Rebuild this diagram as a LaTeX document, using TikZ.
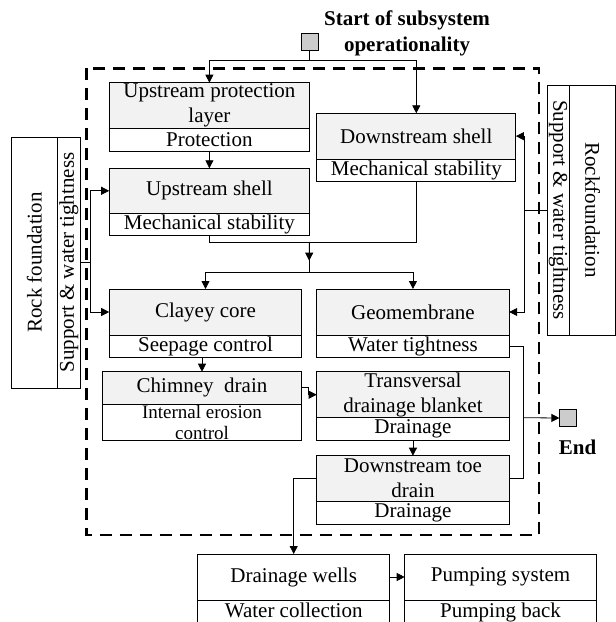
\documentclass[tikz,border=0pt]{standalone}
\usepackage{fontspec}
\setmainfont{Liberation Serif}
\usetikzlibrary{positioning,arrows.meta,calc}
\definecolor{hd}{HTML}{F2F2F2}

\begin{document}
\begin{tikzpicture}[
  x=1pt,y=-1pt,
  font=\fontsize{21}{25}\selectfont,
  head/.style={draw,fill=hd,line width=0.9pt,inner sep=0pt,outer sep=0pt,align=center,anchor=north west},
  func/.style={draw,fill=white,line width=0.9pt,inner sep=0pt,outer sep=0pt,align=center},
  side/.style={draw,line width=0.9pt,inner sep=0pt,outer sep=0pt},
  term/.style={draw,fill=gray!40,line width=0.8pt,minimum size=17pt,inner sep=0pt},
  line/.style={line width=0.8pt},
  arr/.style={-{Triangle[length=8pt,width=8pt]},line width=0.8pt},
  frame/.style={line width=2.6pt,dash pattern=on 12pt off 8pt}
]
\clip (0,0) rectangle (616,622);

% subsystem border
\draw[frame] (86.4,68.3) rectangle (539.1,535);

% start
\node[term] (start) at (309.5,42) {};
\node[font=\bfseries\fontsize{21}{26.5}\selectfont,align=center] (startlbl) at (407,33.5) {Start of subsystem\\operationality};

% components
\node[head,minimum width=200.4,minimum height=45.6] (upH) at (109.2,82.7) {Upstream protection\\layer};
\node[func,below=0pt of upH,minimum width=200.4,minimum height=22.7] (upF) {Protection};

\node[head,minimum width=200.4,minimum height=45] (shH) at (109.2,168.3) {Upstream shell};
\node[func,below=0pt of shH,minimum width=200.4,minimum height=21.7] (shF) {Mechanical stability};

\node[head,minimum width=199.2,minimum height=45.7] (dsH) at (316.7,113.3) {Downstream shell};
\node[func,below=0pt of dsH,minimum width=199.2,minimum height=22.7] (dsF) {Mechanical stability};

\node[head,minimum width=192.6,minimum height=46] (coreH) at (109.2,289) {Clayey core};
\node[func,below=0pt of coreH,minimum width=192.6,minimum height=22.3] (coreF) {Seepage control};

\node[head,minimum width=192.5,minimum height=46] (geoH) at (316.7,289) {Geomembrane};
\node[func,below=0pt of geoH,minimum width=192.5,minimum height=22.3] (geoF) {Water tightness};

\node[head,minimum width=199.6,minimum height=32.3] (chH) at (102.2,371.7) {Chimney\ \ drain};
\node[func,below=0pt of chH,minimum width=199.6,minimum height=36.7,font=\fontsize{19}{21}\selectfont] (chF) {Internal erosion\\control};

\node[head,minimum width=192.5,minimum height=46] (blH) at (316.7,371.7) {Transversal\\drainage blanket};
\node[func,below=0pt of blH,minimum width=192.5,minimum height=23] (blF) {Drainage};

\node[head,minimum width=192.5,minimum height=46] (toeH) at (316.7,455.7) {Downstream toe\\drain};
\node[func,below=0pt of toeH,minimum width=192.5,minimum height=22.3] (toeF) {Drainage};

\node[head,fill=white,minimum width=192.2,minimum height=46] (wellsH) at (197.6,554) {Drainage wells};
\node[func,below=0pt of wellsH,minimum width=192.2,minimum height=24,text depth=3.5pt] (wellsF) {Water collection};

\node[head,fill=white,minimum width=191.8,minimum height=46] (pumpH) at (404.7,554) {Pumping system};
\node[func,below=0pt of pumpH,minimum width=191.8,minimum height=24,text depth=3.5pt] (pumpF) {Pumping back};

% foundations
\node[side,rotate=90,minimum width=251,minimum height=45.2] (rockLh) at (34.4,262.5) {Rock foundation};
\node[side,rotate=90,minimum width=251,minimum height=23.5] (rockLf) at (68.75,262.5) {Support \& water tightness};
\node[side,rotate=-90,minimum width=250,minimum height=45.8] (rockRh) at (592.6,210) {Rockfoundation};
\node[side,rotate=-90,minimum width=250,minimum height=22.7] (rockRf) at (558.3,210) {Support \& water tightness};

% end
\node[term] (endsq) at (568.3,418) {};
\node[font=\bfseries\fontsize{21}{25}\selectfont] (endlbl) at (577.5,447) {End};

% connectors
\coordinate (sj) at (309.5,60.7);
\draw[line] (start.south) -- (sj);
\draw[arr] (sj) -| (upH.north);
\draw[arr] (sj) -| (dsH.north);
\draw[arr] (upF.south) -- (shH.north);

\coordinate (m1) at (309.2,242.7);
\coordinate (m2) at (309.2,272.7);
\draw[line] (shF.south) |- (m1) -| (dsF.south);
\draw[line] (m1) -- (m2);
\draw[arr] (m1) -- ($(m1)!0.6!(m2)$);
\draw[arr] (m2) -| (coreH.north);
\draw[arr] (m2) -| (geoH.north);

\coordinate (lj) at (90.7,262.5);
\draw[line] (rockLf.south) -- (lj);
\draw[arr] (lj) |- (shH.west);
\draw[arr] (lj) |- (coreH.west);

\coordinate (rj) at (524.6,210);
\draw[line] (rockRf.south) -- (rj);
\draw[arr] (rj) |- (dsH.east);
\draw[arr] (rj) |- (geoH.east);

\draw[arr] (coreF.south -| chH.north) -- (chH.north);
\draw[arr] (chH.east) -- ++(6.5,0) |- (blH.west);
\draw[arr] (blF.south) -- (toeH.north);

\coordinate (mg) at (523.6,417.7);
\draw[line] (geoF.east) -| (mg);
\draw[line] (toeH.east) -| (mg);
\draw[arr] (mg) -- (endsq.west);

\draw[arr] (toeH.west) -| (wellsH.north);
\draw[arr] (wellsH.east) -- (pumpH.west);
\end{tikzpicture}
\end{document}
